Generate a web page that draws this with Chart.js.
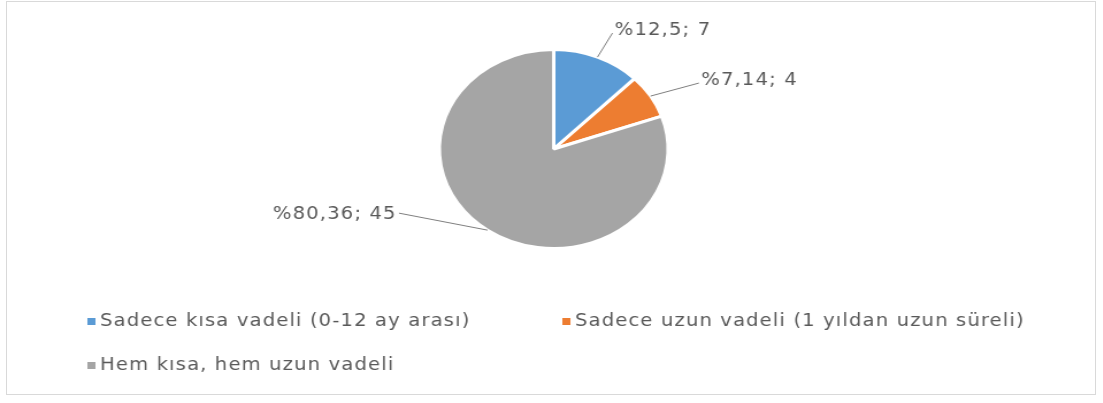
<!DOCTYPE html>
<html>
<head>
<meta charset="utf-8">
<script src="https://cdn.jsdelivr.net/npm/chart.js@4/dist/chart.umd.min.js"></script>
<style>
  html, body { margin: 0; padding: 0; background: #fff; }
  #frame { position: absolute; left: 6px; top: 1px; width: 1090px; height: 394px; border: 1px solid #d9d9d9; box-sizing: border-box; }
  #wrap { position: absolute; left: 0; top: 0; width: 959px; height: 403px; transform: scaleX(1.15); transform-origin: 0 0; }
</style>
</head>
<body>
<div id="frame"></div>
<div id="wrap"><canvas id="c" width="959" height="403"></canvas></div>
<script>
const categories = [
  "Sadece kısa vadeli (0-12 ay arası)",
  "Sadece uzun vadeli (1 yıldan uzun süreli)",
  "Hem kısa, hem uzun vadeli"
];
const counts = [7, 4, 45];
const percentLabels = ["%12,5", "%7,14", "%80,36"];
const colors = ["#5B9BD5", "#ED7D31", "#A5A5A5"];

const FONT = "17px 'DejaVu Sans'";
const TEXT = "#595959";

// label leader offsets relative to slice's outer mid-point: [dx, dy, side]
const leaders = [[13, -24, 1], [42, -13, 1], [-77, -17, -1]];

function setSpacing(ctx) { if ('letterSpacing' in ctx) ctx.letterSpacing = '1px'; }

const labelPlugin = {
  id: 'pieLabels',
  afterDatasetsDraw(chart) {
    const ctx = chart.ctx;
    const meta = chart.getDatasetMeta(0);
    ctx.save();
    ctx.font = FONT;
    setSpacing(ctx);
    ctx.fillStyle = TEXT;
    ctx.strokeStyle = "#7f7f7f";
    ctx.lineWidth = 1;
    meta.data.forEach((arc, i) => {
      const p = arc.getProps(['x', 'y', 'startAngle', 'endAngle', 'outerRadius'], true);
      const mid = (p.startAngle + p.endAngle) / 2;
      const sx = p.x + Math.cos(mid) * p.outerRadius;
      const sy = p.y + Math.sin(mid) * p.outerRadius;
      const [dx, dy, side] = leaders[i];
      const ex = sx + dx, ey = sy + dy;
      ctx.beginPath();
      ctx.moveTo(sx, sy);
      ctx.lineTo(ex, ey);
      ctx.stroke();
      const txt = percentLabels[i] + "; " + counts[i];
      ctx.textBaseline = 'middle';
      if (side > 0) {
        ctx.textAlign = 'left';
        ctx.fillText(txt, ex + 2, ey - 2);
      } else {
        ctx.textAlign = 'right';
        ctx.fillText(txt, ex - 2, ey + 1);
      }
    });
    ctx.restore();
  }
};

const legendPlugin = {
  id: 'bottomLegend',
  afterDraw(chart) {
    const ctx = chart.ctx;
    ctx.save();
    ctx.font = FONT;
    setSpacing(ctx);
    ctx.textBaseline = 'middle';
    ctx.textAlign = 'left';
    const rows = [[0, 1], [2]];
    const rowY = [322, 366];
    const startX = 76;
    const gap = 80;
    rows.forEach((row, r) => {
      let x = startX;
      row.forEach(i => {
        ctx.fillStyle = colors[i];
        ctx.fillRect(x, rowY[r] - 4, 7, 7);
        ctx.fillStyle = TEXT;
        ctx.fillText(categories[i], x + 11, rowY[r]);
        x += 11 + ctx.measureText(categories[i]).width + gap;
      });
    });
    ctx.restore();
  }
};

new Chart(document.getElementById('c'), {
  type: 'pie',
  data: {
    labels: categories,
    datasets: [{
      data: counts,
      backgroundColor: colors,
      borderColor: '#ffffff',
      borderWidth: 3
    }]
  },
  options: {
    responsive: false,
    animation: false,
    layout: { padding: { top: 48, bottom: 153, left: 4, right: 0 } },
    plugins: {
      legend: { display: false },
      tooltip: { enabled: false }
    }
  },
  plugins: [labelPlugin, legendPlugin]
});
</script>
</body>
</html>
